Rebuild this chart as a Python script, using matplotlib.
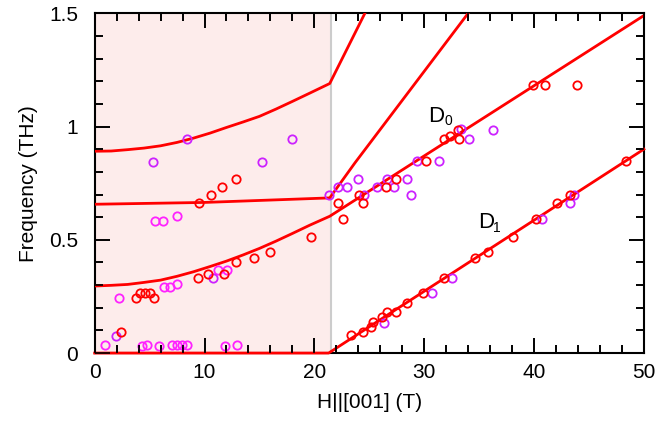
import numpy as np
import matplotlib.pyplot as plt
from matplotlib.ticker import MultipleLocator, FuncFormatter
from matplotlib.markers import TICKUP, TICKDOWN, TICKLEFT, TICKRIGHT

plt.rcParams['font.family'] = ['Liberation Sans', 'DejaVu Sans']
plt.rcParams['font.size'] = 15
plt.rcParams['axes.linewidth'] = 1.5

# --- model curves (field in T, frequency in THz) ---
low_h = [0, 1.5, 3, 4.5, 6, 7.5, 9, 10.5, 12, 13.5, 15, 16.5, 18, 19.6, 21.4, 50]
low_f = [0.296, 0.299, 0.303, 0.312, 0.322, 0.339, 0.359, 0.382, 0.406, 0.433,
         0.462, 0.494, 0.528, 0.565, 0.604, 1.49]

mid_h = [0, 10, 21.4, 23.7, 34.0]
mid_f = [0.657, 0.665, 0.685, 0.84, 1.5]

top_h = [0, 1.5, 3, 4.5, 6, 7.5, 9, 10.5, 12, 13.5, 15, 16.5, 18, 19.6, 21.4, 24.6]
top_f = [0.891, 0.892, 0.898, 0.905, 0.915, 0.930, 0.949, 0.971, 0.996, 1.020,
         1.045, 1.077, 1.111, 1.148, 1.19, 1.5]

d1_h = [0, 21.3, 50]
d1_f = [0, 0, 0.90]

# --- measured points ---
red_h = [12.83, 11.55, 10.58, 9.52, 19.65, 15.98, 14.52, 12.83, 11.74, 10.34, 9.40,
         5.42, 5.03, 4.58, 4.12, 3.73, 2.36,
         39.91, 40.97, 43.95, 33.09, 32.33, 31.78, 33.18, 30.21, 48.34, 27.42, 26.48,
         24.08, 22.17, 22.62, 24.44,
         23.32, 24.44, 25.14, 25.35, 26.17, 26.57, 27.42, 28.39, 29.90, 31.78, 34.67,
         35.85, 38.09, 40.22, 42.13, 43.31]
red_f = [0.767, 0.734, 0.698, 0.662, 0.512, 0.444, 0.419, 0.403, 0.347, 0.347, 0.332,
         0.243, 0.264, 0.264, 0.264, 0.243, 0.093,
         1.185, 1.185, 1.185, 0.985, 0.958, 0.943, 0.943, 0.848, 0.848, 0.767, 0.734,
         0.698, 0.662, 0.590, 0.662,
         0.078, 0.091, 0.113, 0.136, 0.158, 0.182, 0.180, 0.222, 0.264, 0.332, 0.419,
         0.444, 0.512, 0.590, 0.662, 0.698]

violet_h = [5.28, 8.43, 15.25, 17.95, 10.74, 1.92, 21.35,
            36.27, 33.39, 34.06, 29.35, 31.36, 23.93, 26.57, 28.48, 22.17, 22.93, 25.72,
            27.23, 28.84, 24.53, 26.36, 30.75, 32.57, 40.76, 43.25, 43.64]
violet_f = [0.845, 0.943, 0.845, 0.943, 0.332, 0.077, 0.698,
            0.985, 0.988, 0.943, 0.848, 0.848, 0.769, 0.769, 0.769, 0.734, 0.734, 0.734,
            0.734, 0.698, 0.698, 0.134, 0.264, 0.332, 0.590, 0.662, 0.698]

magenta_h = [5.46, 6.21, 7.50, 7.46, 6.86, 6.30, 11.20, 12.08, 2.22,
             0.95, 4.35, 4.73, 5.87, 7.02, 7.46, 7.94, 8.43, 11.87, 12.95]
magenta_f = [0.584, 0.584, 0.605, 0.306, 0.290, 0.290, 0.367, 0.367, 0.243,
             0.036, 0.033, 0.037, 0.032, 0.035, 0.035, 0.035, 0.035, 0.032, 0.034]

h_split = 21.5

fig = plt.figure(figsize=(6.7, 4.29), dpi=100)
ax = fig.add_axes([0.1413, 0.177, 0.8197, 0.792])

ax.set_xlim(0, 50)
ax.set_ylim(0, 1.5)
ax.xaxis.set_major_locator(MultipleLocator(10))
ax.xaxis.set_minor_locator(MultipleLocator(2))
ax.yaxis.set_major_locator(MultipleLocator(0.5))
ax.yaxis.set_minor_locator(MultipleLocator(0.1))
ax.yaxis.set_major_formatter(FuncFormatter(lambda v, p: '%g' % v))
ax.tick_params(axis='both', which='both', direction='in', top=True, right=True,
               width=1.2)
ax.tick_params(axis='both', which='major', length=11)
ax.tick_params(axis='both', which='minor', length=5.5)
ax.tick_params(axis='x', which='major', pad=7)
ax.tick_params(axis='y', which='major', pad=12)

ax.axvspan(0, h_split, color='#fdeceb', lw=0, zorder=0)
ax.axvline(h_split, color='#cccccc', lw=1.5, zorder=1)

line_kw = dict(color='#ff0000', lw=2, zorder=3)
ax.plot(low_h, low_f, **line_kw)
ax.plot(mid_h, mid_f, **line_kw)
ax.plot(top_h, top_f, **line_kw)
ax.plot(d1_h, d1_f, clip_on=False, **line_kw)

mk = dict(marker='o', ls='none', ms=6, mfc='none', mew=1.3, zorder=4)
ax.plot(magenta_h, magenta_f, mec='#ff22ff', **mk)
ax.plot(violet_h, violet_f, mec='#cc22ff', **mk)
ax.plot(red_h, red_f, mec='#ff0000', **mk)

# inward tick marks on all four sides, placed at the locator positions
tk = dict(ls='none', color='black', mew=1.2, clip_on=False, zorder=5)
xtr = ax.get_xaxis_transform()
ytr = ax.get_yaxis_transform()
for locs, size in [(ax.xaxis.get_majorticklocs(), 11), (ax.xaxis.get_minorticklocs(), 5.5)]:
    locs = [v for v in locs if 0 <= v <= 50]
    ax.plot(locs, [0] * len(locs), transform=xtr, marker=TICKUP, ms=size, **tk)
    ax.plot(locs, [1] * len(locs), transform=xtr, marker=TICKDOWN, ms=size, **tk)
for locs, size in [(ax.yaxis.get_majorticklocs(), 11), (ax.yaxis.get_minorticklocs(), 5.5)]:
    locs = [v for v in locs if 0 <= v <= 1.5]
    ax.plot([0] * len(locs), locs, transform=ytr, marker=TICKRIGHT, ms=size, **tk)
    ax.plot([1] * len(locs), locs, transform=ytr, marker=TICKLEFT, ms=size, **tk)

# branch labels
ax.text(30.35, 1.02, 'D', fontsize=16, ha='left', va='baseline')
ax.text(31.85, 1.005, '0', fontsize=10, ha='left', va='baseline')
ax.text(34.9, 0.55, 'D', fontsize=16, ha='left', va='baseline')
ax.text(36.3, 0.535, '1', fontsize=10, ha='left', va='baseline')

ax.set_xlim(0, 50)
ax.set_ylim(0, 1.5)
ax.set_xlabel('H||[001] (T)', fontsize=15, labelpad=8)
ax.set_ylabel('Frequency (THz)', fontsize=15, labelpad=8)

fig.savefig('out.png', dpi=100)
